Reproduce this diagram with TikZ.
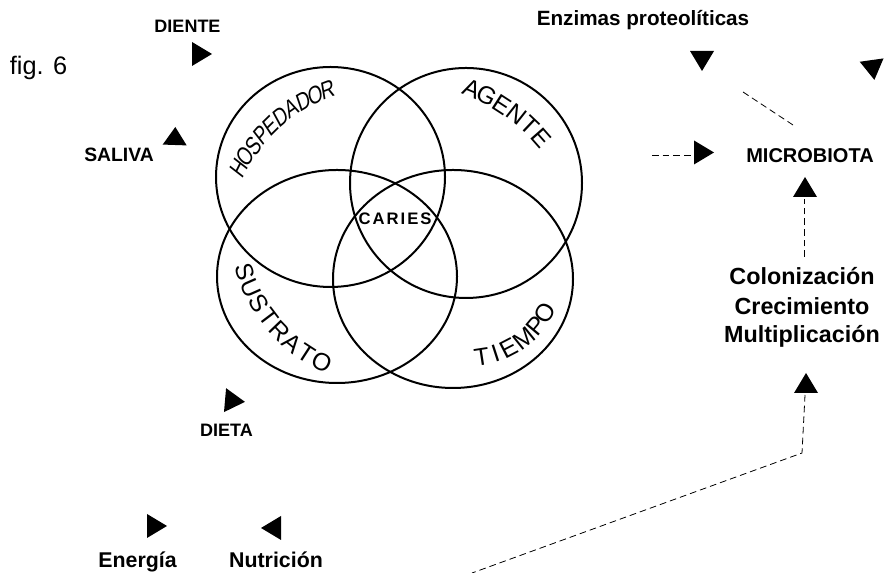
\documentclass[tikz,border=0pt]{standalone}
\usepackage{fontspec}
\setmainfont{Liberation Sans}
\newfontfamily\slantsans[FakeSlant=0.2,FakeStretch=0.82]{Liberation Sans}
\usetikzlibrary{positioning}

\tikzset{
	lbl/.style={font=\bfseries\fontsize{#1}{#1}\selectfont, anchor=base, inner sep=0pt},
	venn/.style={font=\fontsize{18.5}{18.5}\selectfont, inner sep=0pt},
	ring/.style={line width=1.5pt},
	faint/.style={line width=0.6pt, dash pattern=on 5pt off 3pt},
	tip/.pic={\fill (10,0) -- (-10,12) -- (-10,-12) -- cycle;}
}

\begin{document}
\begin{tikzpicture}[x=0.75pt,y=0.75pt]
	\useasboundingbox (0,0) rectangle (884,573);

	% the four circles
	\coordinate (host) at (330.5,396);
	\coordinate (agent) at (466,390);
	\coordinate (substr) at (337,296.5);
	\coordinate (tiempo) at (453,294);

	\draw[ring] (host) ellipse [x radius=114.5, y radius=110];
	\draw[ring] (agent) ellipse [x radius=116, y radius=115];
	\draw[ring] (substr) ellipse [x radius=120, y radius=106.5];
	\draw[ring] (tiempo) ellipse [x radius=120, y radius=109];

	% letters along the rims
	\coordinate (hostarc) at (383.3,330.8);
	\coordinate (agentarc) at (399.4,309.5);
	\coordinate (substrarc) at (388.1,345.6);
	\coordinate (tiempoarc) at (468.3,303.7);

	\foreach \ch [count=\i from 0] in {H,O,S,P,E,D,A,D,O,R}{
		\pgfmathsetmacro\ang{153.5-4.756*\i}
		\node[venn, font=\slantsans\fontsize{18}{18}\selectfont, rotate=\ang-90] (hosp-\i) at ([shift={(\ang:162)}]hostarc) {\ch};
	}
	\foreach \ch [count=\i from 0] in {A,G,E,N,T,E}{
		\pgfmathsetmacro\ang{67.6-5.26*\i}
		\node[venn, rotate=\ang-90] (agen-\i) at ([shift={(\ang:189.5)}]agentarc) {\ch};
	}
	\foreach \ch [count=\i from 0] in {S,U,S,T,R,A,T,O}{
		\pgfmathsetmacro\ang{197.2+6.643*\i}
		\node[venn, rotate=\ang+90] (sust-\i) at ([shift={(\ang:149.8)}]substrarc) {\ch};
	}
	\foreach \ch/\ang in {T/278.7, I/288.0, E/297.5, M/308.8, P/320.0, O/330.2}{
		\node[venn, rotate=\ang+90] (tiem-\ch) at ([shift={(\ang:88.4)}]tiempoarc) {\ch};
	}

	\node[anchor=base, inner sep=0pt, font={\bfseries\fontsize{12.5}{12.5}\selectfont\addfontfeature{LetterSpace=12}}] (caries) at (395,348) {CARIES};

	% labels
	\node[anchor=base, inner sep=0pt, font=\fontsize{19}{19}\selectfont] (fig) at (38.5,498) {fig. 6};
	\node[lbl=13.5] (diente) at (187.5,540) {DIENTE};
	\node[lbl=14.5] (saliva) at (119,411) {SALIVA};
	\node[lbl=13.5] (dieta) at (226.5,136) {DIETA};
	\node[lbl=16] (energia) at (137.5,5) {Energía};
	\node[lbl=16] (nutricion) at (276,5) {Nutrición};
	\node[lbl=15.5] (enzimas) at (643,547) {Enzimas proteolíticas};
	\node[lbl=15] (micro) at (810,410) {MICROBIOTA};
	\node[lbl=17.5] (colon) at (802,288) {Colonización};
	\node[lbl=17.5, below=22.5pt of colon.base, anchor=base] (crec) {Crecimiento};
	\node[lbl=17.5, below=21pt of crec.base, anchor=base] (multi) {Multiplicación};

	% arrow heads
	\pic at (202,519) {tip};
	\pic[rotate=88, xscale=0.9] at (175,437) {tip};
	\pic[rotate=-5] at (235,172) {tip};
	\pic at (157,47) {tip};
	\pic[rotate=180] at (271,45) {tip};
	\pic[rotate=-90] at (702,512) {tip};
	\pic[rotate=-82] at (873,503) {tip};
	\pic at (704,420.5) {tip};
	\pic[rotate=90] at (805,386) {tip};
	\pic[rotate=90] at (806,190) {tip};

	% dashed connectors
	\coordinate (enzA) at (743,481);
	\coordinate (enzB) at (793,448);
	\coordinate (inA) at (652,418);
	\coordinate (inB) at (693,418);
	\coordinate (upA) at (804,316);
	\coordinate (upB) at (804,374);
	\coordinate (lowA) at (805,178);
	\coordinate (lowB) at (802,120);
	\coordinate (lowC) at (472,0);

	\draw[faint] (enzA) -- (enzB);
	\draw[faint] (inA) -- (inB);
	\draw[faint] (upA) -- (upB);
	\draw[faint] (lowA) -- (lowB) -- (lowC);

\end{tikzpicture}
\end{document}
